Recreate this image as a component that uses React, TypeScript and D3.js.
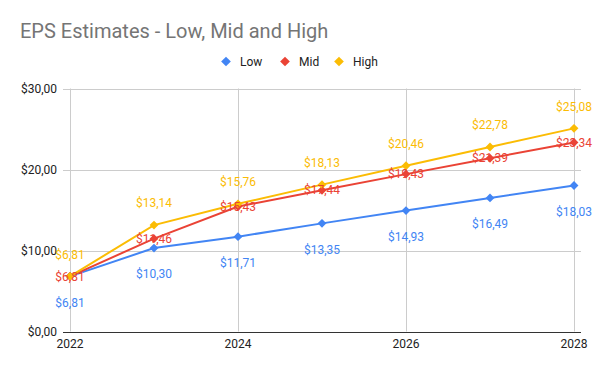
import React, { useEffect, useRef } from 'react';
import * as d3 from 'd3';

const years = [2022, 2023, 2024, 2025, 2026, 2027, 2028];
const lowValues = [6.81, 10.3, 11.71, 13.35, 14.93, 16.49, 18.03];
const midValues = [6.81, 11.46, 15.43, 17.44, 19.43, 21.39, 23.34];
const highValues = [6.81, 13.14, 15.76, 18.13, 20.46, 22.78, 25.08];
const yTicks = [0, 10, 20, 30];
const xTicks = [2022, 2024, 2026, 2028];

const series = [
    { name: 'Low', values: lowValues, color: '#4285f4', labelPos: 'below' },
    { name: 'Mid', values: midValues, color: '#ea4335', labelPos: 'center' },
    { name: 'High', values: highValues, color: '#fbbc04', labelPos: 'above' },
];

const fmt = (v: number) => `$${v.toFixed(2).replace('.', ',')}`;

const width = 600;
const height = 371;

const App = () => {
    const svgRef = useRef<SVGSVGElement | null>(null);

    useEffect(() => {
        document.body.style.margin = '0';
        const svg = d3.select(svgRef.current);
        svg.selectAll('*').remove();

        const font = 'Roboto, Arial, sans-serif';
        const x = d3.scaleLinear().domain([2022, 2028]).range([70, 574]);
        const y = d3.scaleLinear().domain([0, 30]).range([331.5, 88.5]);
        const gridLeft = 63;
        const gridRight = 581;

        svg.append('rect').attr('width', width).attr('height', height).attr('fill', '#fff');

        // Title
        svg.append('text')
            .attr('x', 20)
            .attr('y', 38)
            .style('font-family', font)
            .style('font-size', '20px')
            .style('fill', '#757575')
            .text('EPS Estimates - Low, Mid and High');

        // Legend
        const legendX = [226, 285, 339];
        series.forEach((s, i) => {
            const g = svg.append('g').attr('transform', `translate(${legendX[i]},61.5)`);
            g.append('path')
                .attr('d', d3.symbol(d3.symbolDiamond2, 60)())
                .attr('fill', s.color);
            g.append('text')
                .attr('x', 14)
                .attr('dy', '0.35em')
                .style('font-family', font)
                .style('font-size', '12px')
                .style('fill', '#222')
                .text(s.name);
        });

        // Gridlines
        svg.append('g')
            .selectAll('line')
            .data(yTicks.slice(1))
            .enter()
            .append('line')
            .attr('x1', gridLeft)
            .attr('x2', gridRight)
            .attr('y1', (d) => Math.round(y(d)) + 0.5)
            .attr('y2', (d) => Math.round(y(d)) + 0.5)
            .attr('stroke', '#cccccc');
        svg.append('g')
            .selectAll('line')
            .data(xTicks)
            .enter()
            .append('line')
            .attr('x1', (d) => Math.round(x(d)) + 0.5)
            .attr('x2', (d) => Math.round(x(d)) + 0.5)
            .attr('y1', y(30))
            .attr('y2', y(0))
            .attr('stroke', '#cccccc');

        // Axis labels
        svg.append('g')
            .selectAll('text')
            .data(yTicks)
            .enter()
            .append('text')
            .attr('x', 57)
            .attr('y', (d) => y(d))
            .attr('dy', '0.35em')
            .attr('text-anchor', 'end')
            .style('font-family', font)
            .style('font-size', '12px')
            .style('fill', '#222')
            .text((d) => fmt(d));
        svg.append('g')
            .selectAll('text')
            .data(xTicks)
            .enter()
            .append('text')
            .attr('x', (d) => x(d))
            .attr('y', 348)
            .attr('text-anchor', 'middle')
            .style('font-family', font)
            .style('font-size', '12px')
            .style('fill', '#222')
            .text((d) => String(d));

        // Lines and markers
        const line = d3
            .line<number>()
            .x((_, i) => x(years[i]))
            .y((d) => y(d));

        series.forEach((s) => {
            svg.append('path')
                .datum(s.values)
                .attr('d', line)
                .attr('fill', 'none')
                .attr('stroke', s.color)
                .attr('stroke-width', 2);
            svg.append('g')
                .selectAll('path')
                .data(s.values)
                .enter()
                .append('path')
                .attr('transform', (d, i) => `translate(${x(years[i])},${y(d)})`)
                .attr('d', d3.symbol(d3.symbolDiamond2, 50)())
                .attr('fill', s.color);
        });

        // Baseline
        svg.append('line')
            .attr('x1', gridLeft)
            .attr('x2', gridRight)
            .attr('y1', Math.round(y(0)) + 0.5)
            .attr('y2', Math.round(y(0)) + 0.5)
            .attr('stroke', '#333');

        // Data labels
        series.forEach((s) => {
            const offset = s.labelPos === 'above' ? -22 : s.labelPos === 'below' ? 26 : 0;
            svg.append('g')
                .selectAll('text')
                .data(s.values)
                .enter()
                .append('text')
                .attr('x', (d, i) => x(years[i]))
                .attr('y', (d) => y(d) + offset)
                .attr('dy', '0.35em')
                .attr('text-anchor', 'middle')
                .style('font-family', font)
                .style('font-size', '12px')
                .style('fill', s.color)
                .text((d) => fmt(d));
        });
    }, []);

    return <svg ref={svgRef} width={width} height={height} style={{ display: 'block' }} />;
};

export default App;
